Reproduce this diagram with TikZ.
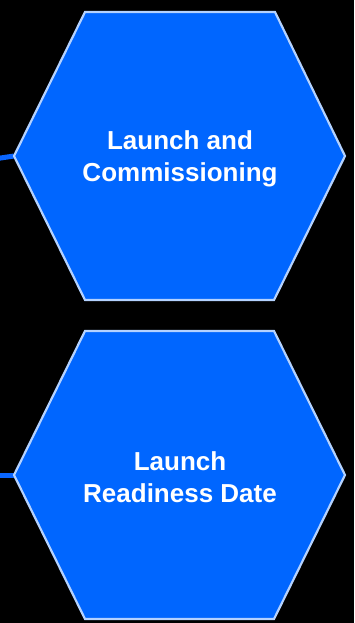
\documentclass[tikz,border=0pt]{standalone}
\usepackage{fontspec}
\setmainfont{Liberation Sans}
\definecolor{hexfill}{HTML}{0066FF}
\definecolor{hexline}{HTML}{B4D2FF}
\definecolor{wire}{HTML}{0A66FF}
\begin{document}
\begin{tikzpicture}[x=1pt,y=-1pt,
  hexbox/.style={fill=hexfill,draw=hexline,line width=2.2pt,line join=miter},
  wirestyle/.style={draw=wire,line width=5pt},
  label/.style={text=white,font=\fontsize{26}{32}\selectfont\bfseries,align=center,inner sep=0pt}]
\fill[black] (0,0) rectangle (354,623);
\useasboundingbox (0,0) rectangle (354,623);
% hexagon 1 corners
\coordinate (h1l) at (14,156);
\coordinate (h1tl) at (85,12);
\coordinate (h1tr) at (275,12);
\coordinate (h1r) at (345,156);
\coordinate (h1br) at (274,300);
\coordinate (h1bl) at (85,300);
% hexagon 2 corners
\coordinate (h2l) at (14,475);
\coordinate (h2tl) at (85,331);
\coordinate (h2tr) at (274,331);
\coordinate (h2r) at (345,475);
\coordinate (h2br) at (274,619);
\coordinate (h2bl) at (85,619);
% free ends of connectors
\coordinate (w1) at (-6,159);
\coordinate (w2) at (-6,475);
\draw[wirestyle] (w1) -- (h1l);
\draw[wirestyle] (w2) -- (h2l);
\path[hexbox] (h1l) -- (h1tl) -- (h1tr) -- (h1r) -- (h1br) -- (h1bl) -- cycle;
\path[hexbox] (h2l) -- (h2tl) -- (h2tr) -- (h2r) -- (h2br) -- (h2bl) -- cycle;
\node[label] (t1) at (180,158.5) {Launch and\\Commissioning};
\node[label] (t2) at (180,477.5) {Launch\\Readiness Date};
\end{tikzpicture}
\end{document}
